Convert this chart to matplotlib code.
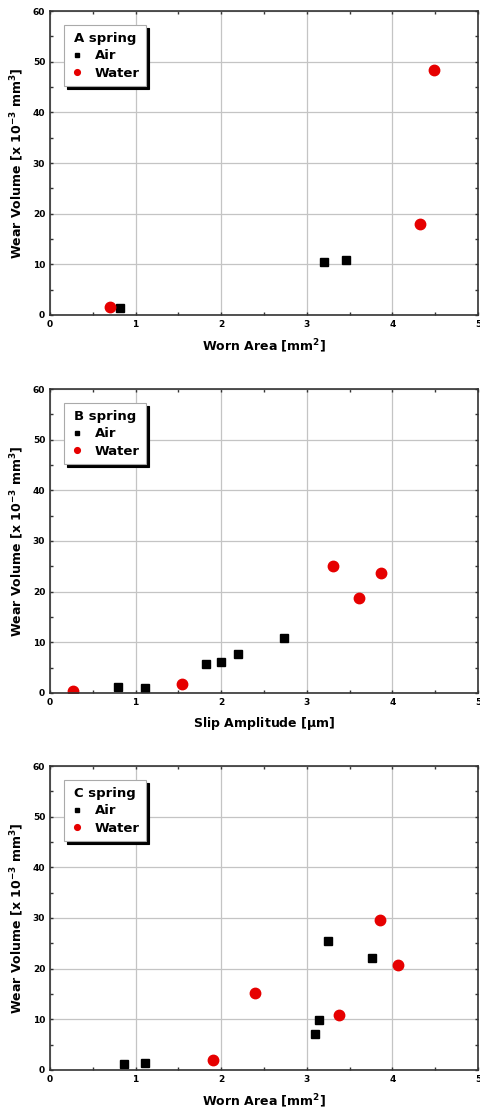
import matplotlib.pyplot as plt
from matplotlib.ticker import MultipleLocator

# A spring (worn area)
a_air_x = [0.82, 3.20, 3.46]
a_air_y = [1.3, 10.5, 10.9]
a_water_x = [0.70, 4.32, 4.49]
a_water_y = [1.6, 18.0, 48.4]

# B spring (slip amplitude)
b_air_x = [0.79, 1.11, 1.82, 2.00, 2.19, 2.73]
b_air_y = [1.25, 1.05, 5.7, 6.1, 7.6, 10.8]
b_water_x = [0.27, 1.54, 3.31, 3.61, 3.86]
b_water_y = [0.4, 1.8, 25.0, 18.7, 23.6]

# C spring (worn area)
c_air_x = [0.86, 1.11, 3.09, 3.14, 3.25, 3.76]
c_air_y = [1.1, 1.45, 7.0, 9.8, 25.4, 22.1]
c_water_x = [1.90, 2.39, 3.38, 3.85, 4.06]
c_water_y = [2.0, 15.2, 10.8, 29.6, 20.8]

panels = [
    ('A spring', 'Worn Area [mm$^\\mathbf{2}$]', a_air_x, a_air_y, a_water_x, a_water_y),
    ('B spring', 'Slip Amplitude [$\\mathbf{\\mu}$m]', b_air_x, b_air_y, b_water_x, b_water_y),
    ('C spring', 'Worn Area [mm$^\\mathbf{2}$]', c_air_x, c_air_y, c_water_x, c_water_y),
]
ylabel = 'Wear Volume [x 10$^{\\mathbf{-3}}$ mm$^\\mathbf{3}$]'

plt.rcParams['font.family'] = 'DejaVu Sans'
plt.rcParams['font.weight'] = 'bold'
plt.rcParams['mathtext.default'] = 'bf'

fig = plt.figure(figsize=(4.81, 11.15), dpi=100, facecolor='w')
bottoms = [0.7175, 0.3785, 0.0404]

for (title, xlabel, ax_x, ax_y, wx, wy), b in zip(panels, bottoms):
    ax = fig.add_axes([0.104, b, 0.890, 0.2726])
    ax.set_axisbelow(True)
    ax.grid(True, which='major', color='#c4c4c4', lw=0.9)
    ax.plot(ax_x, ax_y, 's', color='black', ms=6, label='Air')
    ax.plot(wx, wy, 'o', color='#e60000', ms=7.5, label='Water')
    ax.set_xlim(0, 5)
    ax.set_ylim(0, 60)
    ax.xaxis.set_major_locator(MultipleLocator(1))
    ax.xaxis.set_minor_locator(MultipleLocator(0.5))
    ax.yaxis.set_major_locator(MultipleLocator(10))
    ax.yaxis.set_minor_locator(MultipleLocator(5))
    ax.tick_params(which='both', direction='in', top=True, right=True,
                   length=2.5, width=1, labelsize=6.5, color='#333333')
    for spine in ax.spines.values():
        spine.set_color('#333333')
        spine.set_linewidth(1.2)
    ax.set_xlabel(xlabel, fontsize=9, fontweight='bold', labelpad=6)
    ax.set_ylabel(ylabel, fontsize=9, fontweight='bold', labelpad=5)
    leg = ax.legend(loc='upper left', bbox_to_anchor=(0.033, 0.954), borderaxespad=0,
                    title=title, fontsize=9.5,
                    title_fontproperties={'weight': 'bold', 'size': 9.5},
                    markerscale=0.55, handletextpad=0.9, handlelength=0.9,
                    borderpad=0.5, labelspacing=0.35, fancybox=False,
                    shadow={'color': 'black', 'alpha': 1.0}, framealpha=1)
    leg.get_frame().set_edgecolor('#aaaaaa')
    leg.get_frame().set_linewidth(0.8)

plt.savefig('out.png', dpi=100)
